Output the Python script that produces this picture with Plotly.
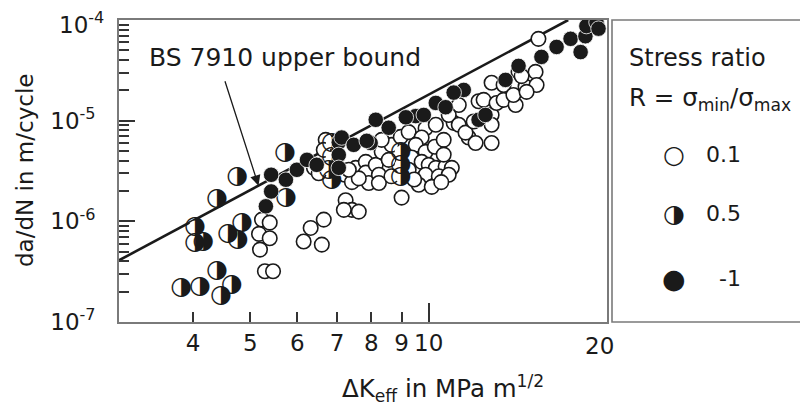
import math
import plotly.graph_objects as go

# ---------------- data ----------------
# Stress ratio R = 0.1 (open circles)
dk_r01 = [5.23, 5.39, 5.17, 5.39, 5.19, 5.29, 5.46,
          6.65, 6.32, 6.15, 6.60, 6.40, 6.70, 6.65, 6.52,
          7.24, 7.42, 7.19, 7.62, 7.22, 7.42, 7.53, 7.83, 7.83, 7.92, 8.14, 8.24, 8.24,
          8.33, 8.56, 8.65, 8.65, 7.62, 9.00, 7.33, 8.33,
          8.97, 9.25, 9.88, 10.28, 11.02, 11.24, 10.81, 9.73, 9.51, 9.88, 9.36, 9.73,
          10.0, 10.28, 10.68, 10.94, 9.88, 10.40, 10.81, 9.62, 10.12, 10.24,
          9.25, 10.6, 11.24, 10.6, 10.5, 9.45,
          11.68, 11.54, 12.0, 12.77, 12.14, 12.38, 12.77, 12.77, 13.02, 13.38, 14.02, 12.77, 11.91,
          13.38, 13.9,
          14.18, 15.15, 14.57, 15.21, 14.35, 14.63, 15.32]
dadn_r01 = [1.04e-6, 9.7e-7, 7.5e-7, 6.8e-7, 5.24e-7, 3.19e-7, 3.19e-7,
            1.04e-6, 8.6e-7, 6.3e-7, 5.87e-7, 3.4e-6, 6.45e-6, 5.13e-6, 3.0e-6,
            1.62e-6, 1.30e-6, 1.30e-6, 1.25e-6, 2.90e-6, 2.45e-6, 3.4e-6, 3.9e-6, 3.05e-6, 2.4e-6,
            3.64e-6, 2.9e-6, 2.4e-6, 4.9e-6, 4.08e-6, 5.75e-6, 2.8e-6, 2.67e-6, 1.72e-6, 3.25e-6,
            6.45e-6,
            6.9e-6, 7.7e-6, 8.4e-6, 9.1e-6, 9.5e-6, 1.43e-5, 1.14e-5, 6.8e-6, 5.75e-6, 4.9e-6, 4.3e-6,
            3.9e-6, 3.64e-6, 3.4e-6, 3.5e-6, 3.4e-6, 2.9e-6, 2.8e-6, 2.9e-6, 2.31e-6, 2.2e-6, 5.5e-6,
            3.25e-6, 6.45e-6, 9.1e-6, 4.6e-6, 2.45e-6, 2.6e-6,
            6.8e-6, 7.6e-6, 6.0e-6, 6.0e-6, 1.56e-5, 1.61e-5, 1.14e-5, 9.1e-6, 1.5e-5, 1.61e-5,
            1.43e-5, 2.38e-5, 9.8e-6,
            2.26e-5, 1.8e-5,
            3.05e-5, 3.05e-5, 2.17e-5, 2.26e-5, 2.77e-5, 1.93e-5, 6.5e-5]

# Stress ratio R = 0.5 (half-filled circles)
dk_r05 = [4.75, 4.39, 4.03, 4.03, 4.16, 4.58, 4.84, 4.76, 4.39, 3.82, 4.11, 4.65, 4.46,
          5.72, 5.74, 6.86, 6.86, 6.78, 6.86, 8.97, 8.97, 8.97]
dadn_r05 = [2.78e-6, 1.68e-6, 8.9e-7, 6.1e-7, 6.3e-7, 7.5e-7, 9.7e-7, 6.58e-7, 3.25e-7, 2.2e-7,
            2.25e-7, 2.35e-7, 1.83e-7, 4.78e-6, 1.71e-6, 6.0e-6, 4.37e-6, 3.25e-6, 2.59e-6,
            4.9e-6, 3.64e-6, 2.78e-6]

# Stress ratio R = -1 (filled circles)
dk_rm1 = [5.42, 5.42, 5.31, 5.74, 5.99, 6.23, 6.47, 7.05, 7.05, 7.05, 7.13, 7.47, 7.98, 7.86,
          8.14, 8.56, 9.51, 9.15, 10.28, 10.68, 9.81, 11.46, 11.02, 12.14, 12.47, 13.48, 14.18,
          15.50, 16.44, 17.36, 18.05, 18.39, 18.46, 19.20, 19.35]
dadn_rm1 = [2.9e-6, 1.98e-6, 1.41e-6, 2.59e-6, 3.25e-6, 4.08e-6, 3.64e-6, 6.1e-6, 4.57e-6, 3.4e-6,
            6.8e-6, 5.75e-6, 6.0e-6, 6.3e-6, 1.02e-5, 8.5e-6, 1.11e-5, 1.08e-5, 1.5e-5, 1.36e-5,
            1.14e-5, 2.02e-5, 1.9e-5, 1.02e-5, 1.14e-5, 2.54e-5, 3.5e-5, 4.3e-5, 5.4e-5, 6.5e-5,
            4.8e-5, 6.9e-5, 8.7e-5, 9.5e-5, 8.2e-5]

# BS 7910 upper bound line
bound_dk = [3.0, 17.2]
bound_dadn = [4.1e-7, 1.0e-4]
arrow_tip_dk = 5.16

x_tick_vals = [4, 5, 6, 7, 8, 9, 10, 20]
x_tick_text = ["4", "5", "6", "7", "8", "9", "10", ""]
x_last_label = "20"
y_tick_vals = [1e-7, 1e-6, 1e-5, 1e-4]
y_tick_text = ["10<sup>-7</sup>", "10<sup>-6</sup>", "10<sup>-5</sup>", ""]
y_top_label = "10<sup>-4</sup>"
legend_labels = ["0.1", "0.5", "-1"]

# ---------------- layout constants ----------------
# the page body has an 8px margin, so the figure is 8px smaller than the window
OFF = 8
W, H = 808 - OFF, 407 - OFF
L, T = 119 - OFF, 20 - OFF          # plot-area left/top in figure pixels
PLOT_R, PLOT_B = 607 - OFF, 322 - OFF
R, B = W - PLOT_R, H - PLOT_B
PW, PH = W - L - R, H - T - B
FONT = "DejaVu Sans"
TXT = "#1a1a1a"
FRAME = "#7a7a7a"


def px(xp):
    """window x pixel -> paper fraction"""
    return (xp - OFF - L) / PW


def py(yp):
    """window y pixel -> paper fraction"""
    return (T + PH - (yp - OFF)) / PH


fig = go.Figure()

# upper-bound line
fig.add_trace(go.Scatter(x=bound_dk, y=bound_dadn, mode="lines",
                         line=dict(color="#1a1a1a", width=2.6), hoverinfo="skip",
                         showlegend=False))

# open circles
fig.add_trace(go.Scatter(x=dk_r01, y=dadn_r01, mode="markers", showlegend=False,
                         marker=dict(symbol="circle", size=14.5, color="white",
                                     line=dict(color="#1a1a1a", width=1.6))))

# half-filled circles: white disc + glyph
fig.add_trace(go.Scatter(x=dk_r05, y=dadn_r05, mode="markers", showlegend=False,
                         marker=dict(symbol="circle", size=12, color="white",
                                     line=dict(width=0))))
fig.add_trace(go.Scatter(x=dk_r05, y=dadn_r05, mode="text", showlegend=False,
                         text=["\u25d1"] * len(dk_r05), textposition="middle center",
                         textfont=dict(family=FONT, size=25, color="#1a1a1a")))

# filled circles
fig.add_trace(go.Scatter(x=dk_rm1, y=dadn_rm1, mode="markers", showlegend=False,
                         marker=dict(symbol="circle", size=15.5, color="#1a1a1a",
                                     line=dict(color="white", width=0.8))))

# dummy trace for overlay axis (long tick at 10)
fig.add_trace(go.Scatter(x=[10], y=[1e-7], xaxis="x2", mode="markers",
                         marker=dict(size=1, opacity=0), showlegend=False, hoverinfo="skip"))

xr = [math.log10(3), math.log10(20)]
minor_y = [m * 10 ** e for e in (-7, -6, -5) for m in range(2, 10)]

fig.update_layout(
    width=W, height=H,
    margin=dict(l=L, r=R, t=T, b=B, autoexpand=False),
    paper_bgcolor="white", plot_bgcolor="white",
    showlegend=False,
    xaxis=dict(type="log", range=xr, tickmode="array", tickvals=x_tick_vals,
               ticktext=x_tick_text, ticks="inside", ticklen=10, tickwidth=1.8,
               tickcolor="#333", showline=True, mirror=True, linecolor=FRAME,
               linewidth=1.6, showgrid=False, zeroline=False, automargin=False,
               tickfont=dict(family=FONT, size=23, color=TXT), ticklabelstandoff=0),
    xaxis2=dict(type="log", range=xr, overlaying="x", anchor="y", side="bottom",
                tickmode="array", tickvals=[10], ticks="inside", ticklen=19, tickwidth=1.8,
                tickcolor="#333", showticklabels=False, showline=False, showgrid=False,
                zeroline=False, automargin=False),
    yaxis=dict(type="log", range=[-7, -4], tickmode="array", tickvals=y_tick_vals,
               ticktext=y_tick_text, ticks="inside", ticklen=16, tickwidth=1.8,
               tickcolor="#333", showline=True, mirror=True, linecolor=FRAME,
               linewidth=1.6, showgrid=False, zeroline=False, automargin=False,
               tickfont=dict(family=FONT, size=23, color=TXT), ticklabelstandoff=17,
               minor=dict(tickmode="array", tickvals=minor_y, ticks="inside", ticklen=10,
                          tickwidth=1.6, tickcolor="#333", showgrid=False)),
)

# legend frame
fig.add_shape(type="rect", xref="paper", yref="paper", x0=px(612), x1=px(806), y0=0, y1=1,
              line=dict(color=FRAME, width=1.6), fillcolor="rgba(0,0,0,0)")

ann = []
# top y tick label (kept as annotation so it is not dropped at the figure edge)
ann.append(dict(xref="paper", yref="paper", x=px(106), y=py(23), xanchor="right",
                yanchor="middle", showarrow=False, text=y_top_label,
                font=dict(family=FONT, size=23, color=TXT)))
# last x tick label (set slightly inside the frame, as in the original)
ann.append(dict(xref="paper", yref="paper", x=px(599), y=py(346), xanchor="center",
                yanchor="middle", showarrow=False, text=x_last_label,
                font=dict(family=FONT, size=23, color=TXT)))
# axis titles
ann.append(dict(xref="paper", yref="paper", x=px(443), y=py(388), xanchor="center",
                yanchor="middle", showarrow=False,
                text="\u0394K<sub>eff</sub> in MPa m<sup>1/2</sup>",
                font=dict(family=FONT, size=24.5, color=TXT)))
ann.append(dict(xref="paper", yref="paper", x=px(25), y=py(171), xanchor="center",
                yanchor="middle", showarrow=False, textangle=-90,
                text="da/dN in m/cycle", font=dict(family=FONT, size=23, color=TXT)))

# BS 7910 label + arrow
ann.append(dict(xref="paper", yref="paper", x=px(147), y=py(58), xanchor="left",
                yanchor="middle", showarrow=False, text="BS 7910 upper bound",
                font=dict(family=FONT, size=25, color=TXT)))
lx0, lx1 = math.log10(bound_dk[0]), math.log10(bound_dk[1])
ly0, ly1 = math.log10(bound_dadn[0]), math.log10(bound_dadn[1])
tip_lx = math.log10(arrow_tip_dk)
tip_ly = ly0 + (tip_lx - lx0) * (ly1 - ly0) / (lx1 - lx0)
ann.append(dict(x=tip_lx, y=tip_ly, xref="x", yref="y", text="", showarrow=True,
                ax=-34, ay=-106, arrowhead=2, arrowsize=1.6, arrowwidth=1.3,
                arrowcolor="#1a1a1a", standoff=0))

# legend texts
ann.append(dict(xref="paper", yref="paper", x=px(627), y=py(58), xanchor="left",
                yanchor="middle", showarrow=False, text="Stress ratio",
                font=dict(family=FONT, size=24, color=TXT)))
ann.append(dict(xref="paper", yref="paper", x=px(627), y=py(99), xanchor="left",
                yanchor="middle", showarrow=False,
                text="R = \u03c3<sub>min</sub>/\u03c3<sub>max</sub>",
                font=dict(family=FONT, size=24.5, color=TXT)))
glyphs = ["\u25cb", "\u25d1", "\u25cf"]
gsize = [25, 25, 27]
rows = [155, 213, 278]
for g, gs, lab, yy in zip(glyphs, gsize, legend_labels, rows):
    ann.append(dict(xref="paper", yref="paper", x=px(674), y=py(yy), xanchor="center",
                    yanchor="middle", showarrow=False, text=g,
                    font=dict(family=FONT, size=gs, color="#1a1a1a")))
    ann.append(dict(xref="paper", yref="paper", x=px(743), y=py(yy), xanchor="right",
                    yanchor="middle", showarrow=False, text=lab,
                    font=dict(family=FONT, size=22, color=TXT)))

fig.update_layout(annotations=ann)
fig.write_html("out.html")
